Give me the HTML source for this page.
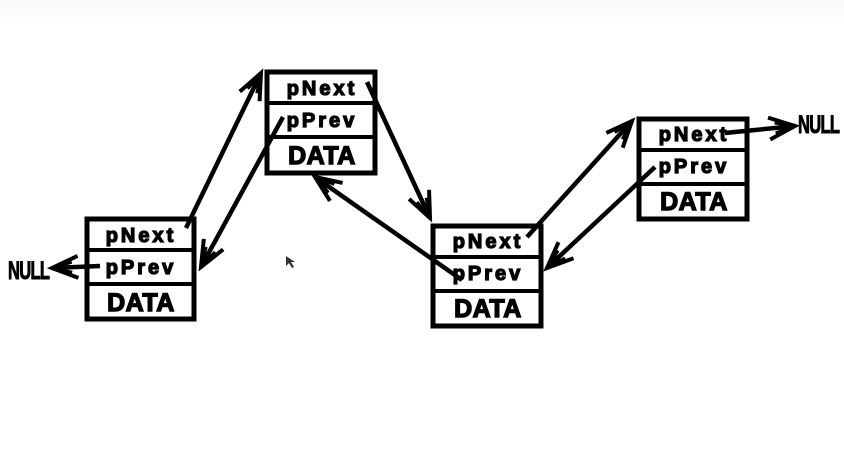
<!DOCTYPE html>
<html><head><meta charset="utf-8"><style>
html,body{margin:0;padding:0;background:#fff;}
svg{display:block;}
text{font-family:"Liberation Sans",sans-serif;font-weight:bold;fill:#000;stroke:#000;}
.f{font-size:20px;letter-spacing:3px;stroke-width:1.3px;}
.d{font-size:25px;letter-spacing:0.5px;stroke-width:1.4px;}
.n{font-size:25px;letter-spacing:-1px;stroke-width:1px;}
</style></head><body>
<svg width="844" height="464" viewBox="0 0 844 464" xmlns="http://www.w3.org/2000/svg">
<defs>
<linearGradient id="g" x1="0" y1="0" x2="0" y2="1"><stop offset="0" stop-color="#f7f7f7"/><stop offset="1" stop-color="#fff"/></linearGradient>
<marker id="a" markerUnits="userSpaceOnUse" markerWidth="40" markerHeight="40" refX="0" refY="0" viewBox="-30 -20 40 40" orient="auto" overflow="visible">
<path d="M-26,-11 L0,0 L-26,11" fill="none" stroke="#000" stroke-width="4"/>
<path d="M-20,-5 L0,0 L-20,5" fill="none" stroke="#000" stroke-width="3"/>
</marker>
</defs>
<rect width="844" height="25" fill="url(#g)"/>
<g fill="none" stroke="#000" stroke-width="5">
<rect x="87" y="219" width="107" height="100"/>
<line x1="87" y1="250" x2="194" y2="250" stroke-width="4"/>
<line x1="87" y1="284" x2="194" y2="284" stroke-width="4"/>
<rect x="267" y="72" width="108" height="101"/>
<line x1="267" y1="103" x2="375" y2="103" stroke-width="4"/>
<line x1="267" y1="137" x2="375" y2="137" stroke-width="4"/>
<rect x="433" y="226" width="108" height="100"/>
<line x1="433" y1="257" x2="541" y2="257" stroke-width="4"/>
<line x1="433" y1="291" x2="541" y2="291" stroke-width="4"/>
<rect x="639" y="119" width="108" height="100"/>
<line x1="639" y1="150" x2="747" y2="150" stroke-width="4"/>
<line x1="639" y1="184" x2="747" y2="184" stroke-width="4"/>
</g>
<g text-anchor="middle">
<text class="f" x="141" y="242">pNext</text>
<text class="f" x="141" y="274">pPrev</text>
<text class="d" x="141" y="311">DATA</text>
<text class="f" x="322" y="95">pNext</text>
<text class="f" x="322" y="127">pPrev</text>
<text class="d" x="322" y="164">DATA</text>
<text class="f" x="488" y="248">pNext</text>
<text class="f" x="488" y="280">pPrev</text>
<text class="d" x="488" y="317">DATA</text>
<text class="f" x="694" y="141">pNext</text>
<text class="f" x="694" y="173">pPrev</text>
<text class="d" x="694" y="210">DATA</text>
</g>
<text class="n" transform="translate(8,279) scale(0.66,1)">NULL</text>
<text class="n" transform="translate(798,133) scale(0.66,1)">NULL</text>
<g stroke="#000" stroke-width="4.5" fill="none" marker-end="url(#a)">
<line x1="186" y1="228" x2="261" y2="73"/>
<line x1="283" y1="117" x2="201" y2="267"/>
<line x1="367" y1="82" x2="430" y2="218"/>
<line x1="462" y1="280" x2="315" y2="177"/>
<line x1="527" y1="237" x2="632" y2="121"/>
<line x1="655" y1="167" x2="547" y2="268"/>
<line x1="725" y1="133" x2="795" y2="126"/>
<line x1="100" y1="266" x2="52" y2="268"/>
</g>
<path d="M286,256 l0,10 l3,-3 l3,5 l2,-1 l-3,-5 l4,0z" fill="#333"/>
</svg>
</body></html>
